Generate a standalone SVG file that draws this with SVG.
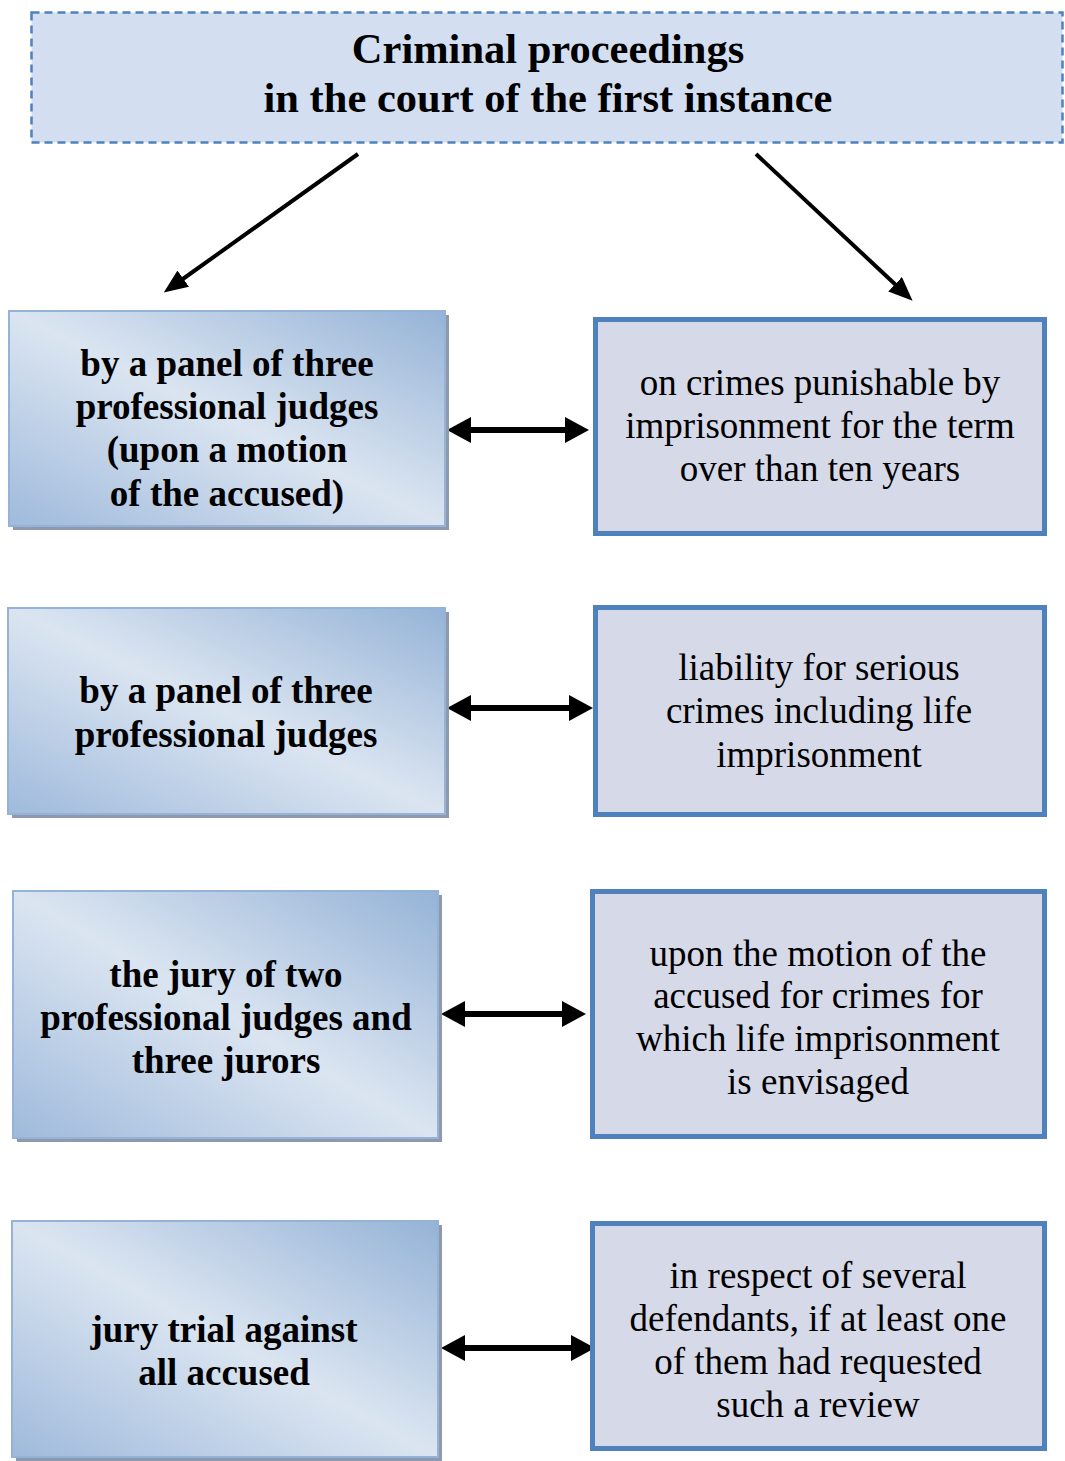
<svg xmlns="http://www.w3.org/2000/svg" width="1065" height="1461" viewBox="0 0 1065 1461">
  <style>
    .title { font-family: "Liberation Serif", "Times New Roman", serif; font-weight: bold; font-size: 42.5px; fill: #000; text-anchor: middle; }
    .lbl-b { font-family: "Liberation Serif", "Times New Roman", serif; font-weight: bold; font-size: 37px; fill: #000; text-anchor: middle; }
    .lbl { font-family: "Liberation Serif", "Times New Roman", serif; font-size: 37px; fill: #000; text-anchor: middle; }
    .shadow { fill: #8f99ad; }
    .court { fill: url(#courtFill); stroke: #95b3d7; stroke-width: 2; }
    .ground { fill: #d6d9e8; stroke: #4f81bd; stroke-width: 5; }
    .link { stroke: #000; stroke-width: 6; fill: none; marker-start: url(#headBig); marker-end: url(#headBig); }
    .branch { stroke: #000; stroke-width: 4; fill: none; marker-end: url(#headSmall); }
  </style>
  <defs>
    <linearGradient id="courtFill" x1="1" y1="0" x2="0" y2="1">
      <stop offset="0" stop-color="#95b3d7"/>
      <stop offset="0.5" stop-color="#dbe5f1"/>
      <stop offset="1" stop-color="#9fbadc"/>
    </linearGradient>
    <marker id="headBig" markerUnits="userSpaceOnUse" markerWidth="24" markerHeight="28" viewBox="0 0 24 28" refX="5" refY="14" orient="auto-start-reverse">
      <path d="M0,1 L24,14 L0,27 z" fill="#000"/>
    </marker>
    <marker id="headSmall" markerUnits="userSpaceOnUse" markerWidth="24" markerHeight="20" viewBox="0 0 24 20" refX="4" refY="10" orient="auto">
      <path d="M0,0 L24,10 L0,20 z" fill="#000"/>
    </marker>
  </defs>

  <!-- heading -->
  <g id="heading">
    <rect x="31.5" y="12.5" width="1031" height="130" fill="#d3dff0" stroke="#4f81bd" stroke-width="2.5" stroke-dasharray="8 5"/>
    <text class="title" x="548" y="63">Criminal proceedings</text>
    <text class="title" x="548" y="112">in the court of the first instance</text>
  </g>

  <!-- connectors -->
  <g id="connectors">
    <line class="branch" x1="358" y1="154" x2="180" y2="281"/>
    <line class="branch" x1="756" y1="154" x2="898" y2="287"/>
    <line class="link" x1="466" y1="430" x2="570" y2="430"/>
    <line class="link" x1="466" y1="708" x2="574" y2="708"/>
    <line class="link" x1="460" y1="1014" x2="567" y2="1014"/>
    <line class="link" x1="460" y1="1348" x2="576" y2="1348"/>
  </g>

  <!-- court compositions (left column) -->
  <g id="court-1">
    <rect class="shadow" x="13" y="315" width="436" height="215"/>
    <rect class="court" x="9" y="311" width="436" height="215"/>
    <text class="lbl-b" x="227" y="376">by a panel of three</text>
    <text class="lbl-b" x="227" y="419">professional judges</text>
    <text class="lbl-b" x="227" y="462">(upon a motion</text>
    <text class="lbl-b" x="227" y="506">of the accused)</text>
  </g>
  <g id="court-2">
    <rect class="shadow" x="12" y="612" width="437" height="206"/>
    <rect class="court" x="8" y="608" width="437" height="206"/>
    <text class="lbl-b" x="226" y="703">by a panel of three</text>
    <text class="lbl-b" x="226" y="747">professional judges</text>
  </g>
  <g id="court-3">
    <rect class="shadow" x="17" y="895" width="425" height="247"/>
    <rect class="court" x="13" y="891" width="425" height="247"/>
    <text class="lbl-b" x="226" y="987">the jury of two</text>
    <text class="lbl-b" x="226" y="1030">professional judges and</text>
    <text class="lbl-b" x="226" y="1073">three jurors</text>
  </g>
  <g id="court-4">
    <rect class="shadow" x="16" y="1225" width="426" height="236"/>
    <rect class="court" x="12" y="1221" width="426" height="236"/>
    <text class="lbl-b" x="224" y="1342">jury trial against</text>
    <text class="lbl-b" x="224" y="1385">all accused</text>
  </g>

  <!-- grounds (right column) -->
  <g id="ground-1">
    <rect class="ground" x="595.5" y="319.5" width="449" height="214"/>
    <text class="lbl" x="820" y="395">on crimes punishable by</text>
    <text class="lbl" x="820" y="438">imprisonment for the term</text>
    <text class="lbl" x="820" y="481">over than ten years</text>
  </g>
  <g id="ground-2">
    <rect class="ground" x="595.5" y="607.5" width="449" height="207"/>
    <text class="lbl" x="819" y="680">liability for serious</text>
    <text class="lbl" x="819" y="723">crimes including life</text>
    <text class="lbl" x="819" y="767">imprisonment</text>
  </g>
  <g id="ground-3">
    <rect class="ground" x="592.5" y="891.5" width="452" height="245"/>
    <text class="lbl" x="818" y="966">upon the motion of the</text>
    <text class="lbl" x="818" y="1008">accused for crimes for</text>
    <text class="lbl" x="818" y="1051">which life imprisonment</text>
    <text class="lbl" x="818" y="1094">is envisaged</text>
  </g>
  <g id="ground-4">
    <rect class="ground" x="592.5" y="1223.5" width="452" height="225"/>
    <text class="lbl" x="818" y="1288">in respect of several</text>
    <text class="lbl" x="818" y="1331">defendants, if at least one</text>
    <text class="lbl" x="818" y="1374">of them had requested</text>
    <text class="lbl" x="818" y="1417">such a review</text>
  </g>
</svg>
